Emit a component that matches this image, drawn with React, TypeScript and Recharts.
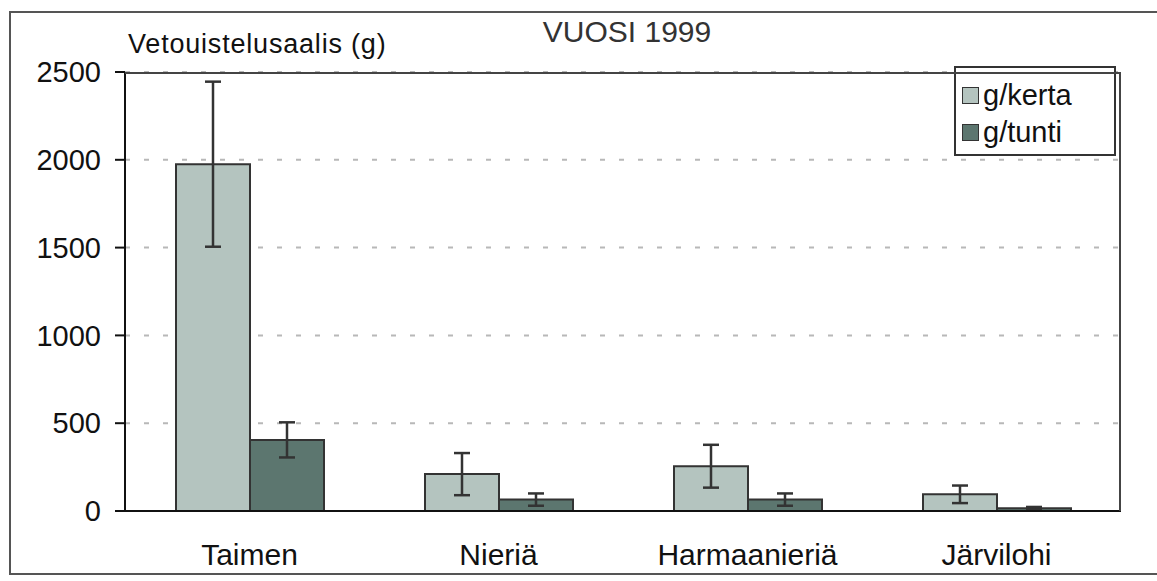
import * as React from 'react'
import { BarChart, Bar, XAxis, YAxis, CartesianGrid, Legend, ErrorBar } from 'recharts'

const categories = ['Taimen', 'Nieriä', 'Harmaanieriä', 'Järvilohi']
const kerta = [1975, 210, 255, 95]
const kertaErr = [470, 120, 122, 50]
const tunti = [405, 65, 65, 15]
const tuntiErr = [100, 35, 35, 8]
const yTicks = [0, 500, 1000, 1500, 2000, 2500]

const rows = categories.map((c, i) => ({
    name: c,
    kerta: kerta[i],
    kertaErr: kertaErr[i],
    tunti: tunti[i],
    tuntiErr: tuntiErr[i],
}))

const font = '"Liberation Sans", Arial, sans-serif'
const LIGHT = '#b4c4bf'
const DARK = '#5c766f'

function LegendBox() {
    const items = [
        { label: 'g/kerta', color: LIGHT },
        { label: 'g/tunti', color: DARK },
    ]
    return (
        <div style={{ border: '2px solid #333', background: '#fff', width: 162, height: 90, boxSizing: 'border-box', padding: '9px 0 0 6px' }}>
            {items.map(it => (
                <div key={it.label} style={{ display: 'flex', alignItems: 'center', height: 37, fontSize: 29, fontFamily: font, color: '#111' }}>
                    <span style={{ display: 'inline-block', width: 15, height: 15, background: it.color, border: '1.5px solid #333', marginRight: 4 }} />
                    {it.label}
                </div>
            ))}
        </div>
    )
}

export default function App() {
    return (
        <div style={{ position: 'absolute', left: 0, top: 0, width: 1157, height: 581, background: '#fff', overflow: 'hidden', fontFamily: font }}>
            <div style={{ position: 'absolute', left: 9, top: 11, width: 1160, height: 564, border: '2px solid #555', boxSizing: 'border-box' }} />
            <div style={{ position: 'absolute', left: 627, top: 32, transform: 'translate(-50%, -50%)', fontSize: 30, color: '#333', whiteSpace: 'nowrap' }}>VUOSI 1999</div>
            <div style={{ position: 'absolute', left: 128, top: 44, transform: 'translateY(-50%)', fontSize: 27, letterSpacing: 0.8, color: '#111', whiteSpace: 'nowrap' }}>Vetouistelusaalis (g)</div>
            <BarChart width={1157} height={581} data={rows} margin={{ top: 72, right: 36, bottom: 25, left: 55 }} barGap={0} barSize={74}>
                <CartesianGrid horizontal vertical={false} stroke="#b8b8b8" strokeWidth={2} strokeDasharray="5 14" />
                <XAxis dataKey="name" height={45} tickLine={false} tickSize={8} tickMargin={25} axisLine={{ stroke: '#111', strokeWidth: 2 }} tick={{ fontSize: 30, fill: '#111', fontFamily: font }} />
                <YAxis width={70} domain={[0, 2500]} ticks={yTicks} interval={0} tickSize={10} tickMargin={14} axisLine={{ stroke: '#111', strokeWidth: 2 }} tickLine={{ stroke: '#111', strokeWidth: 2 }} tick={{ fontSize: 29, fill: '#111', fontFamily: font }} />
                <Legend layout="horizontal" verticalAlign="middle" align="center" content={() => <LegendBox />} wrapperStyle={{ position: 'absolute', left: 954, top: 66, width: 162 }} />
                <Bar dataKey="kerta" name="g/kerta" fill={LIGHT} stroke="#333" strokeWidth={2} isAnimationActive={false}>
                    <ErrorBar dataKey="kertaErr" width={8} stroke="#333" strokeWidth={2.5} isAnimationActive={false} />
                </Bar>
                <Bar dataKey="tunti" name="g/tunti" fill={DARK} stroke="#333" strokeWidth={2} isAnimationActive={false}>
                    <ErrorBar dataKey="tuntiErr" width={8} stroke="#333" strokeWidth={2.5} isAnimationActive={false} />
                </Bar>
            </BarChart>
            <div style={{ position: 'absolute', left: 125, top: 72, width: 996, height: 439, border: '2px solid #444', borderLeft: 'none', borderBottom: 'none', boxSizing: 'border-box', pointerEvents: 'none' }} />
        </div>
    )
}
